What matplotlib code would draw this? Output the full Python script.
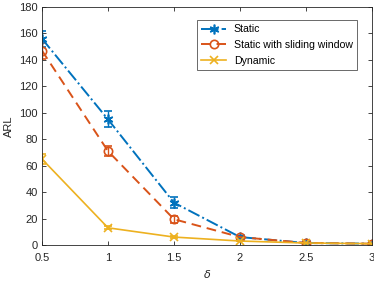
import matplotlib
matplotlib.use("Agg")
import matplotlib.pyplot as plt

delta = [0.5, 1, 1.5, 2, 2.5, 3]
static = [156, 95, 32, 6, 1.5, 1]
static_err = [6, 6, 4, 1, 0.3, 0.2]
sliding = [147, 71, 19.5, 6, 1.5, 1]
sliding_err = [6, 4, 2.5, 1, 0.3, 0.2]
dynamic = [65, 13, 6, 3, 1.5, 1]
dynamic_err = [4, 1, 0.5, 0.3, 0.2, 0.1]

plt.rcParams['font.family'] = ['Liberation Sans', 'DejaVu Sans']
fig = plt.figure(figsize=(3.74, 2.81), dpi=100)
ax = fig.add_axes([42/374, 1-245/281, 330/374, 238/281])

c1, c2, c3 = '#0072BD', '#D95319', '#EDB120'
e1 = ax.errorbar(delta, static, yerr=static_err, color=c1, ls='-.', marker=(6, 2, 0),
                 ms=7, mew=1.2, lw=1.4, capsize=3, elinewidth=1)
e2 = ax.errorbar(delta, sliding, yerr=sliding_err, color=c2, ls='--', dashes=(5, 3), marker='o',
                 mfc='none', ms=6, mew=1.2, lw=1.4, capsize=3, elinewidth=1)
e3 = ax.errorbar(delta, dynamic, yerr=dynamic_err, color=c3, ls='-', marker='x',
                 ms=6, mew=1.2, lw=1.2, capsize=3, elinewidth=1)

ax.set_xlim(0.5, 3)
ax.set_ylim(0, 180)
ax.set_xticks([0.5, 1, 1.5, 2, 2.5, 3])
ax.set_xticklabels(['0.5', '1', '1.5', '2', '2.5', '3'])
ax.set_yticks(range(0, 181, 20))
ax.tick_params(direction='in', top=True, right=True, labelsize=8, colors='#262626',
               length=3, width=0.6, pad=3)
ax.tick_params(axis='x', pad=6)
for s in ax.spines.values():
    s.set_linewidth(0.6)
    s.set_color('#262626')
ax.set_ylabel('ARL', fontsize=8, color='#262626')
ax.set_xlabel(r'$\delta$', fontsize=8, color='#262626', labelpad=3)

leg = ax.legend([e1[0], e2[0], e3[0]], ['Static', 'Static with sliding window', 'Dynamic'],
                loc='upper right', fontsize=7.6, frameon=True, fancybox=False,
                edgecolor='#262626', handlelength=2.4, borderpad=0.4,
                labelspacing=0.55, handletextpad=0.7, borderaxespad=0)
leg.get_frame().set_linewidth(0.6)
leg.set_bbox_to_anchor(((357 - 42) / 330, (245 - 20) / 238), transform=ax.transAxes)

fig.savefig('out.png', dpi=100)
